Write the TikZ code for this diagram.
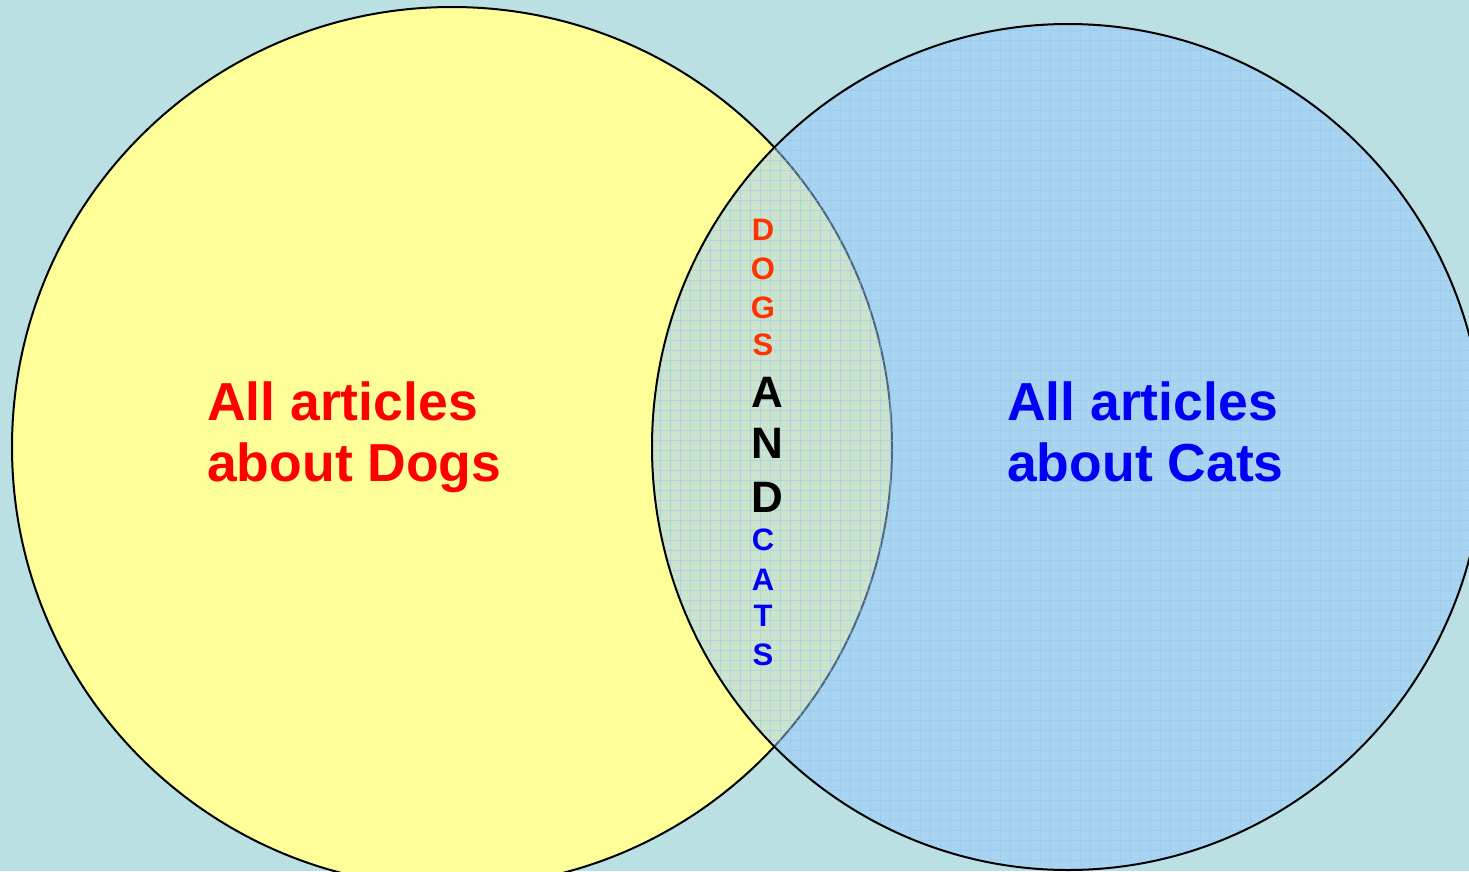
\documentclass[tikz,border=0pt]{standalone}
\usepackage{fontspec}
\setmainfont{Liberation Sans}
\definecolor{bg}{RGB}{186,224,227}
\definecolor{dogfill}{RGB}{255,255,153}
\definecolor{catfill}{RGB}{154,202,253}
\definecolor{gridc}{RGB}{140,195,250}
\definecolor{dogred}{RGB}{255,0,0}
\definecolor{dogor}{RGB}{255,51,0}
\definecolor{catblue}{RGB}{0,0,245}
\tikzset{
  big/.style={font=\fontsize{53.5}{61}\selectfont\bfseries, align=left, inner sep=0pt},
  small/.style={font=\fontsize{31}{36}\selectfont\bfseries, inner sep=0pt},
  mid/.style={font=\fontsize{44}{50}\selectfont\bfseries, inner sep=0pt, text=black},
  rim/.style={draw=black, line width=2pt},
}
\begin{document}
\begin{tikzpicture}[x=1pt,y=-1pt]
\useasboundingbox (0,0) rectangle (1469,871);
\fill[bg] (0,0) rectangle (1469,871);
% left circle
\path[fill=dogfill, rim] (452,447) circle (440pt);
% right circle fill, translucent
\fill[catfill, opacity=0.5] (1068,447) ellipse [x radius=416pt, y radius=423pt];
% grid texture
\begin{scope}
  \clip (1068,447) ellipse [x radius=416pt, y radius=423pt];
  \draw[gridc, line width=0.6pt, opacity=0.45] (640,0) grid[step=10pt] (1500,880);
\end{scope}
\path[rim] (1068,447) ellipse [x radius=416pt, y radius=423pt];
% main labels
\node[big, text=dogred, anchor=north west] (dogs) at (207,382) {All articles\\about Dogs};
\node[big, text=catblue, anchor=north west] (cats) at (1007,382) {All articles\\about Cats};
% intersection letters
\node[small, text=dogor] (d1) at (763,230) {D};
\node[small, text=dogor] (d2) at (763,269) {O};
\node[small, text=dogor] (d3) at (763,308) {G};
\node[small, text=dogor] (d4) at (763,345) {S};
\node[mid] (a1) at (767,392) {A};
\node[mid] (a2) at (767,443) {N};
\node[mid] (a3) at (767,497) {D};
\node[small, text=catblue] (c1) at (763,540) {C};
\node[small, text=catblue] (c2) at (763,580) {A};
\node[small, text=catblue] (c3) at (763,616) {T};
\node[small, text=catblue] (c4) at (763,655) {S};
\end{tikzpicture}
\end{document}
